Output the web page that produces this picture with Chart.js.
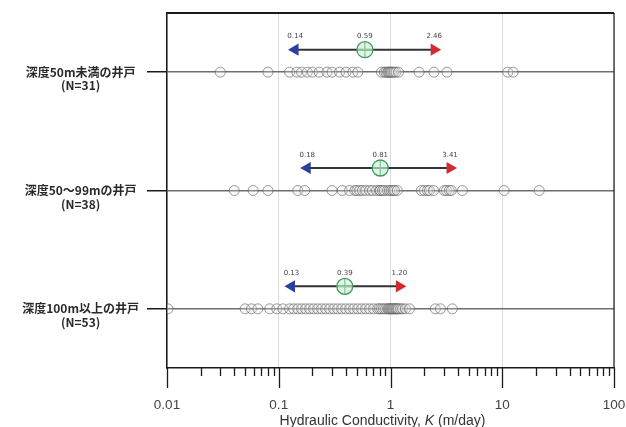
<!DOCTYPE html>
<html>
<head>
<meta charset="utf-8">
<script src="https://cdn.jsdelivr.net/npm/chart.js@4/dist/chart.umd.min.js"></script>
<style>
  html, body { margin: 0; background: #fff; }
  #wrap { width: 626px; height: 427px; }
</style>
</head>
<body>
<div id="wrap"><canvas id="c"></canvas></div>
<script>
const groupLabels = ["深度50m未満の井戸", "深度50～99mの井戸", "深度100m以上の井戸"];
const groupCounts = [31, 38, 53];
const rowPos = [3, 2, 1];

// individual wells, K in m/day
const shallowK = [0.03, 0.08, 0.125, 0.145, 0.16, 0.18, 0.2, 0.23, 0.27, 0.3, 0.35, 0.4, 0.46, 0.51,
  0.83, 0.88, 0.91, 0.94, 0.96, 0.98, 1.0, 1.02, 1.05, 1.08, 1.12, 1.18, 1.8, 2.45, 3.2, 11.2, 12.5];
const middleK = [0.04, 0.059, 0.08, 0.148, 0.171, 0.3, 0.37, 0.43, 0.48, 0.5, 0.53, 0.56, 0.6, 0.65,
  0.69, 0.75, 0.8, 0.81, 0.85, 0.88, 0.94, 0.98, 1.02, 1.06, 1.09, 1.15, 1.89, 2.01, 2.14, 2.23,
  2.43, 3.03, 3.17, 3.36, 3.5, 4.4, 10.4, 21.4];
const deepK = [0.0102, 0.05, 0.057, 0.065, 0.083, 0.096, 0.109, 0.125, 0.136, 0.148, 0.16, 0.174,
  0.189, 0.205, 0.223, 0.242, 0.263, 0.285, 0.31, 0.336, 0.365, 0.397, 0.431, 0.467, 0.508, 0.551,
  0.598, 0.649, 0.705, 0.766, 0.798, 0.831, 0.866, 0.902, 0.94, 0.96, 0.98, 1.0, 1.02, 1.04, 1.06,
  1.085, 1.11, 1.13, 1.155, 1.18, 1.23, 1.28, 1.36, 1.48, 2.52, 2.8, 3.58];

const lowerK = [0.14, 0.18, 0.13];
const medianK = [0.59, 0.81, 0.39];
const upperK = [2.46, 3.41, 1.20];
const decadeTicks = [0.01, 0.1, 1, 10, 100];

const ARROW_LIFT = 0.19;

function isDecade(v) {
  const l = Math.log10(v);
  return Math.abs(l - Math.round(l)) < 1e-9;
}

// label half-sizes would otherwise shrink the plot; the frame here is fixed
function noEdgePadding(scale) {
  scale.paddingTop = 0;
  scale.paddingBottom = 0;
  scale.paddingLeft = 0;
  scale.paddingRight = 0;
}

function wellDataset(values, row) {
  return {
    data: values.map((x) => ({ x, y: row })),
    pointRadius: 5,
    pointHoverRadius: 5,
    borderWidth: 1,
    borderColor: "rgba(90,90,90,0.6)",
    backgroundColor: "rgba(230,230,230,0.25)",
    order: 3,
  };
}

function rangeDataset(i) {
  const y = rowPos[i] + ARROW_LIFT;
  return {
    data: [{ x: lowerK[i], y }, { x: upperK[i], y }],
    showLine: true,
    borderColor: "#333",
    borderWidth: 2,
    pointStyle: "triangle",
    pointRadius: 7,
    pointHoverRadius: 7,
    pointRotation: [-90, 90],
    pointBorderWidth: 0,
    pointBackgroundColor: ["#2b3f9e", "#d12a2f"],
    order: 2,
  };
}

function medianDatasets(i) {
  const pt = [{ x: medianK[i], y: rowPos[i] + ARROW_LIFT }];
  const base = { data: pt, pointRadius: 8, pointHoverRadius: 8, borderColor: "#3d9b5c", borderWidth: 1.3, order: 1 };
  return [
    { ...base, pointStyle: "circle", backgroundColor: "rgba(200,235,210,0.55)" },
    { ...base, pointStyle: "cross", backgroundColor: "transparent" },
  ];
}

const datasets = [
  wellDataset(shallowK, rowPos[0]),
  wellDataset(middleK, rowPos[1]),
  wellDataset(deepK, rowPos[2]),
];
for (let i = 0; i < rowPos.length; i++) {
  datasets.push(rangeDataset(i), ...medianDatasets(i));
}

// frame, minor/major x tick marks, value labels and italic axis title
const decorPlugin = {
  id: "decor",
  afterDraw(chart) {
    const { ctx, chartArea: a, scales: { x, y } } = chart;
    ctx.save();
    ctx.strokeStyle = "#1a1a1a";
    ctx.lineWidth = 2;
    ctx.beginPath();
    ctx.moveTo(a.left, a.top);
    ctx.lineTo(a.right, a.top);
    ctx.stroke();
    ctx.lineWidth = 1.2;
    ctx.beginPath();
    ctx.moveTo(a.right, a.top);
    ctx.lineTo(a.right, a.bottom);
    ctx.stroke();

    ctx.lineWidth = 1.3;
    x.ticks.forEach((t) => {
      const px = Math.round(x.getPixelForValue(t.value)) + 0.5;
      ctx.beginPath();
      ctx.moveTo(px, a.bottom);
      ctx.lineTo(px, a.bottom + (isDecade(t.value) ? 20 : 8));
      ctx.stroke();
    });

    ctx.font = "7px 'DejaVu Sans', sans-serif";
    ctx.fillStyle = "#444";
    ctx.textAlign = "center";
    ctx.textBaseline = "middle";
    for (let i = 0; i < rowPos.length; i++) {
      const py = y.getPixelForValue(rowPos[i] + ARROW_LIFT) - 13;
      [lowerK[i], medianK[i], upperK[i]].forEach((v) => {
        ctx.fillText(v.toFixed(2), x.getPixelForValue(v), py);
      });
    }

    const font = "14px 'Liberation Sans', Arial, sans-serif";
    const parts = [
      { t: "Hydraulic Conductivity, ", f: font },
      { t: "K", f: "italic " + font },
      { t: " (m/day)", f: font },
    ];
    let total = 0;
    parts.forEach((p) => { ctx.font = p.f; p.w = ctx.measureText(p.t).width; total += p.w; });
    let cx = (a.left + a.right) / 2 - 8 - total / 2;
    const ty = a.bottom + 53;
    ctx.textAlign = "left";
    ctx.fillStyle = "#333";
    parts.forEach((p) => { ctx.font = p.f; ctx.fillText(p.t, cx, ty); cx += p.w; });
    ctx.restore();
  },
};

new Chart(document.getElementById("c"), {
  type: "scatter",
  data: { datasets },
  options: {
    responsive: true,
    maintainAspectRatio: false,
    animation: false,
    layout: { padding: { top: 13, right: 12, left: 0, bottom: 0 } },
    plugins: { legend: { display: false }, tooltip: { enabled: false } },
    scales: {
      x: {
        type: "logarithmic",
        min: 0.01,
        max: 100,
        afterBuildTicks(scale) {
          const ticks = [];
          for (let d = 0; d < decadeTicks.length - 1; d++) {
            for (let m = 1; m <= 9; m++) {
              ticks.push({ value: decadeTicks[d] * m });
            }
          }
          ticks.push({ value: decadeTicks[decadeTicks.length - 1] });
          scale.ticks = ticks;
        },
        afterFit(scale) {
          scale.height = 59;
          noEdgePadding(scale);
        },
        grid: {
          drawTicks: false,
          lineWidth: 1,
          color: (ctx) => (ctx.tick && isDecade(ctx.tick.value) ? "#dcdcdc" : "transparent"),
        },
        border: { color: "#1a1a1a", width: 1.5 },
        ticks: {
          autoSkip: false,
          maxRotation: 0,
          padding: 29,
          color: "#444",
          font: { size: 13.5, family: "'Liberation Sans', Arial, sans-serif" },
          callback: (v) => (isDecade(v) ? String(v) : ""),
        },
      },
      y: {
        type: "linear",
        min: 0.5,
        max: 3.5,
        afterBuildTicks(scale) {
          scale.ticks = [...rowPos].sort((p, q) => p - q).map((value) => ({ value }));
        },
        afterFit(scale) {
          scale.width = 167;
          noEdgePadding(scale);
        },
        grid: { color: "#6e6e6e", lineWidth: 1.5, tickLength: 20, tickColor: "#1a1a1a", tickWidth: 1.5 },
        border: { color: "#1a1a1a", width: 1.5 },
        ticks: {
          crossAlign: "center",
          padding: 8,
          color: "#2a2a2a",
          font: { size: 12, weight: "bold", family: "'Noto Sans CJK JP', sans-serif", lineHeight: 1.12 },
          callback: (v) => {
            const i = rowPos.indexOf(v);
            return i < 0 ? "" : ["", groupLabels[i], `(N=${groupCounts[i]})`];
          },
        },
      },
    },
  },
  plugins: [decorPlugin],
});
</script>
</body>
</html>
